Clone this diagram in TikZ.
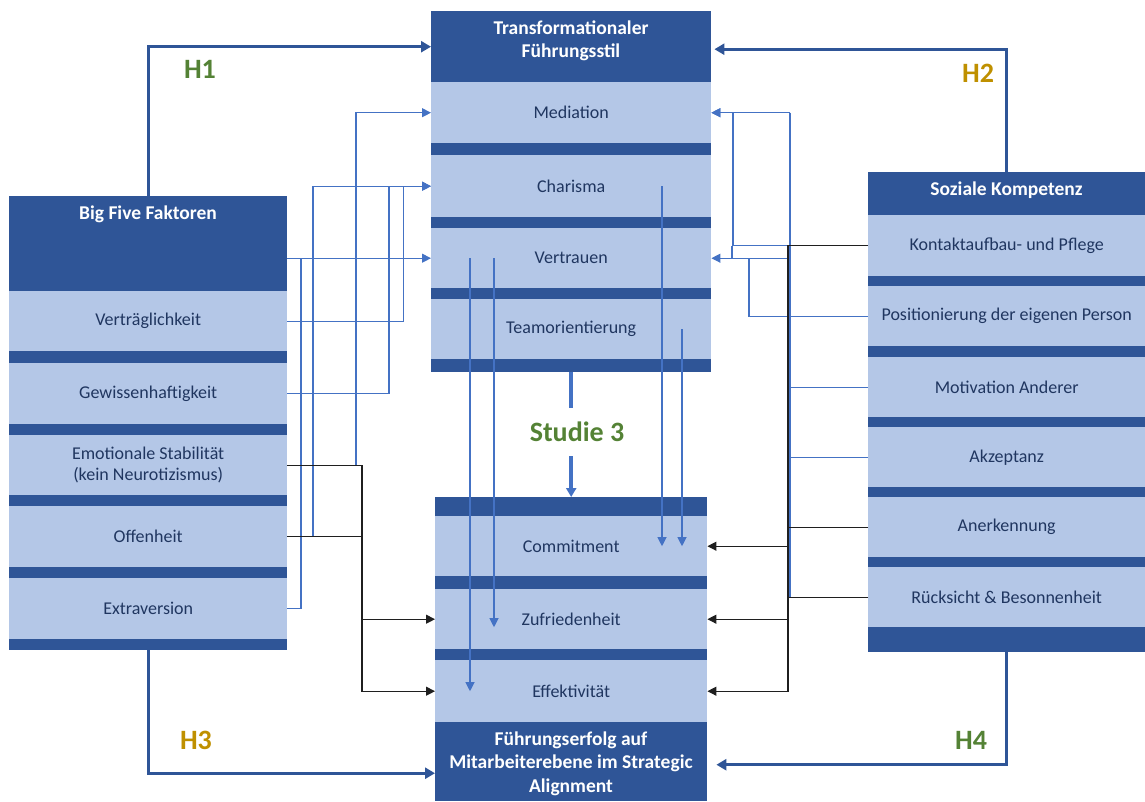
\documentclass[tikz,border=0pt]{standalone}
\usepackage{fontspec}
\setmainfont{Carlito}
\usetikzlibrary{arrows.meta,calc}

\definecolor{dk}{HTML}{2F5597}
\definecolor{lt}{HTML}{B4C7E7}
\definecolor{tx}{HTML}{203660}
\definecolor{ln}{HTML}{4472C4}
\definecolor{hgreen}{HTML}{548235}
\definecolor{hgold}{HTML}{BF9000}

\tikzset{
  panel/.style={rectangle, fill=dk, draw=none, inner sep=0pt, anchor=north west},
  item/.style={rectangle, fill=lt, draw=none, inner sep=0pt, anchor=north west,
    text=tx, align=center, font=\fontsize{18}{21}\selectfont},
  headtxt/.style={inner sep=0pt, text=white, align=center,
    font=\fontsize{19.5}{23.5}\selectfont\bfseries},
  hlabel/.style={inner sep=0pt, font=\fontsize{28}{30}\selectfont\bfseries},
  link/.style={draw=ln, line width=1.1pt},
  blk/.style={draw=black!88, line width=1.2pt},
  tip/.style={-{Triangle[length=9pt,width=9pt]}},
  hyp/.style={draw=dk, line width=3pt, -{Triangle[length=10pt,width=11pt]}},
}

\begin{document}
\begin{tikzpicture}[x=1pt,y=-1pt]
\useasboundingbox (0,0) rectangle (1145,801);

% --- Transformationaler Fuehrungsstil
\node[panel, minimum width=280pt, minimum height=361pt] (tf) at (431,11) {};
\node[panel, minimum width=280pt, minimum height=71pt] (tfh) at (431,11) {};
\node[headtxt] (tfhl) at (571,41) {Transformationaler\\Führungsstil};
\node[item, minimum width=280pt, minimum height=61pt] (med) at (431,82) {Mediation};
\node[item, minimum width=280pt, minimum height=62pt] (cha) at (431,155) {Charisma};
\node[item, minimum width=280pt, minimum height=60pt] (ver) at (431,228) {Vertrauen};
\node[item, minimum width=280pt, minimum height=60pt] (team) at (431,299) {Teamorientierung};

% --- Fuehrungserfolg
\node[panel, minimum width=272pt, minimum height=304pt] (fe) at (435,497) {};
\node[item, minimum width=272pt, minimum height=60pt] (com) at (435,516) {Commitment};
\node[item, minimum width=272pt, minimum height=60pt] (zuf) at (435,589) {Zufriedenheit};
\node[item, minimum width=272pt, minimum height=62pt] (eff) at (435,660) {Effektivität};
\node[panel, minimum width=272pt, minimum height=79pt] (feh) at (435,722) {};
\node[headtxt] (fehl) at (571,763.5) {Führungserfolg auf\\Mitarbeiterebene im Strategic\\Alignment};

% --- Big Five
\node[panel, minimum width=278pt, minimum height=454pt] (bf) at (9,196) {};
\node[panel, minimum width=278pt, minimum height=95pt] (bfh) at (9,196) {};
\node[headtxt] (bfhl) at (148,214) {Big Five Faktoren};
\node[item, minimum width=278pt, minimum height=60pt] (vtr) at (9,291) {Verträglichkeit};
\node[item, minimum width=278pt, minimum height=61pt] (gew) at (9,363) {Gewissenhaftigkeit};
\node[item, minimum width=278pt, minimum height=60pt] (emo) at (9,435) {Emotionale Stabilität\\(kein Neurotizismus)};
\node[item, minimum width=278pt, minimum height=61pt] (off) at (9,506) {Offenheit};
\node[item, minimum width=278pt, minimum height=61pt] (ext) at (9,578) {Extraversion};

% --- Soziale Kompetenz
\node[panel, minimum width=277pt, minimum height=480pt] (sk) at (868,172) {};
\node[panel, minimum width=277pt, minimum height=43pt] (skh) at (868,172) {};
\node[headtxt] (skhl) at (1006.5,190) {Soziale Kompetenz};
\node[item, minimum width=277pt, minimum height=61pt] (kon) at (868,215) {Kontaktaufbau- und Pflege};
\node[item, minimum width=277pt, minimum height=60pt] (pos) at (868,286) {Positionierung der eigenen Person};
\node[item, minimum width=277pt, minimum height=60pt] (mot) at (868,357) {Motivation Anderer};
\node[item, minimum width=277pt, minimum height=60pt] (akz) at (868,427) {Akzeptanz};
\node[item, minimum width=277pt, minimum height=60pt] (ane) at (868,497) {Anerkennung};
\node[item, minimum width=277pt, minimum height=60pt] (rue) at (868,567) {Rücksicht \& Besonnenheit};

% --- Hypotheses
\draw[hyp] (bf.north) |- (tfh.west);
\draw[hyp, shorten >=3pt] (sk.north) |- ($(tfh.east)+(0,2.5)$);
\draw[hyp] (bf.south) |- ($(feh.west)+(0,11.5)$);
\draw[hyp, shorten >=9pt] (sk.south) |- ($(feh.east)+(0,3)$);
\node[hlabel, text=hgreen] (h1) at (200,69) {H1};
\node[hlabel, text=hgold] (h2) at (978,73) {H2};
\node[hlabel, text=hgold] (h3) at (196,740) {H3};
\node[hlabel, text=hgreen] (h4) at (971,740) {H4};

% --- Studie 3
\node[hlabel, text=hgreen, minimum height=48pt] (st) at (577,432) {Studie 3};
\draw[draw=ln, line width=3.5pt] (tf.south) -- (tf.south |- st.north);
\draw[draw=ln, line width=3.5pt, -{Triangle[length=9pt,width=10pt]}] (tf.south |- st.south) -- (fe.north);

% --- Big Five -> Fuehrungsstil
\draw[link, tip] (emo.east) -| (356,0 |- med.west) -- (med.west);
\draw[link, tip] (vtr.east) -| (403.5,0 |- cha.west) -- (cha.west);
\draw[link] (gew.east) -| (389,0 |- cha.west);
\draw[link, tip] (off.east) -| (313,0 |- cha.west) -- (cha.west);
\draw[link] (ext.east) -| (301,0 |- ver.west);
\draw[link, tip] (bfh.east |- ver.west) -- (ver.west);

% --- Big Five -> Fuehrungserfolg
\draw[blk, tip] (emo.east) -| (362,0 |- eff.west) -- (eff.west);
\draw[blk] (off.east) -- (362,0 |- off.east);
\draw[blk, tip] (362,0 |- zuf.west) -- (zuf.west);

% --- Soziale Kompetenz -> Fuehrungsstil
\draw[link] (790,0 |- med.east) -- (790,0 |- rue.west);
\draw[link, tip] (790,0 |- med.east) -- (med.east);
\draw[link, tip] (kon.west) -| (733,0 |- med.east) -- (med.east);
\draw[link] (732,0 |- kon.west) -- (732,0 |- ver.east);
\draw[link] (pos.west) -| (749,0 |- ver.east);
\draw[link, tip] (790,0 |- ver.east) -- (ver.east);
\draw[link] (mot.west) -- (790,0 |- mot.west);
\draw[link] (akz.west) -- (790,0 |- akz.west);

% --- Soziale Kompetenz -> Fuehrungserfolg
\draw[blk, tip] (kon.west) -| (788,0 |- eff.east) -- (eff.east);
\draw[blk] (ane.west) -- (788,0 |- ane.west);
\draw[blk] (rue.west) -- (788,0 |- rue.west);
\draw[blk, tip] (788,0 |- com.east) -- (com.east);
\draw[blk, tip] (788,0 |- zuf.east) -- (zuf.east);

% --- Fuehrungsstil -> Fuehrungserfolg
\draw[link, tip] (470,0 |- ver.center) -- (470,0 |- eff.center);
\draw[link, tip] (494,0 |- ver.center) -- ($(494,0 |- zuf.center)+(0,8)$);
\draw[link, tip] (662,0 |- cha.center) -- (662,0 |- com.center);
\draw[link, tip] (682,0 |- team.center) -- (682,0 |- com.center);
\end{tikzpicture}
\end{document}
